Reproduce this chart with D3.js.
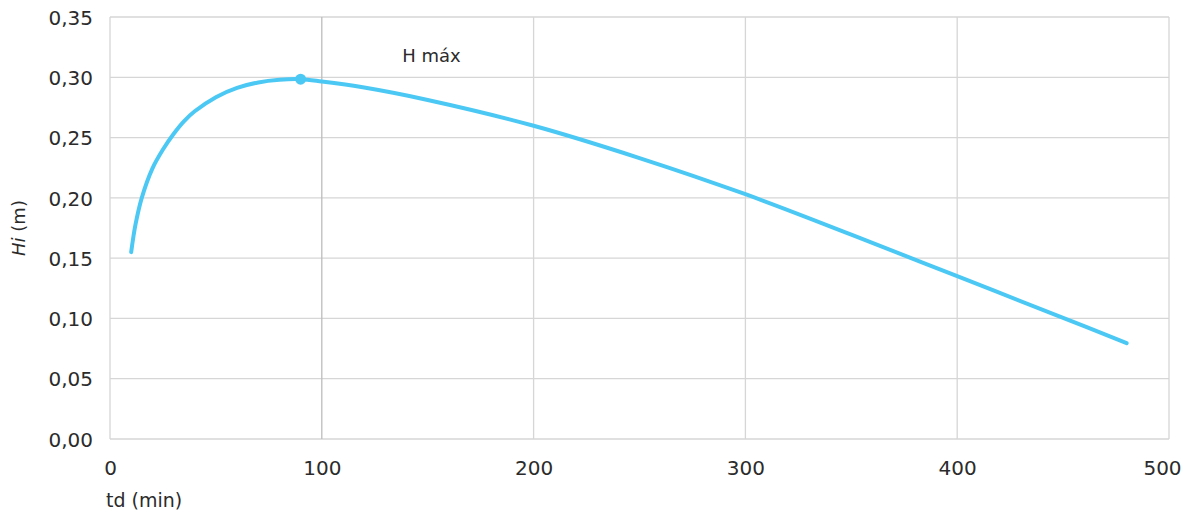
<!DOCTYPE html>
<html><head><meta charset="utf-8">
<script src="https://cdn.jsdelivr.net/npm/d3@7"></script>
<style>
html,body{margin:0;padding:0;background:#fff;}
svg text{font-family:"DejaVu Sans",sans-serif;fill:#2b2b2b;}
</style></head>
<body><svg id="c" width="1192" height="513"></svg>
<script>
const tdMin = [10, 12, 15, 20, 25, 30, 35, 40, 50, 60, 70, 80, 90, 100, 120, 150, 200, 250, 300, 350, 400, 450, 480];
const hiM   = [0.155, 0.1775, 0.2000, 0.2243, 0.2401, 0.2530, 0.2637, 0.2718, 0.2835, 0.2912, 0.2957, 0.2979, 0.2984, 0.2965, 0.2915, 0.2812, 0.2598, 0.2330, 0.2030, 0.1695, 0.1350, 0.1005, 0.0795];
const peak = {t: 90, h: 0.2984, label: "H máx", labelT: 138, labelH: 0.313};
const xTicks = [0, 100, 200, 300, 400, 500];
const yTicks = [0, 0.05, 0.10, 0.15, 0.20, 0.25, 0.30, 0.35];
const xTitle = "td (min)";

const svg = d3.select("#c");
const L = 110, R = 1169, T = 17, B = 439;
const x = d3.scaleLinear().domain([0, 500]).range([L, R]);
const y = d3.scaleLinear().domain([0, 0.35]).range([B, T]);

// grid
svg.append("g").selectAll("line").data(yTicks).join("line")
  .attr("x1", L).attr("x2", R).attr("y1", d => y(d)).attr("y2", d => y(d))
  .attr("stroke", "#d6d6d6").attr("stroke-width", 1.3);
svg.append("g").selectAll("line").data(xTicks).join("line")
  .attr("x1", d => x(d)).attr("x2", d => x(d)).attr("y1", T).attr("y2", B)
  .attr("stroke", d => d === 100 ? "#bdbdbd" : "#d6d6d6").attr("stroke-width", 1.3);

// axes labels via d3 axes
const fmt = d3.format(".2f");
const yAxis = svg.append("g").attr("transform", `translate(${L},0)`)
  .call(d3.axisLeft(y).tickValues(yTicks).tickSize(0).tickPadding(17)
    .tickFormat(d => fmt(d).replace(".", ",")));
yAxis.select(".domain").remove();
yAxis.selectAll("text").attr("font-size", 20).attr("dy", "0.36em");

const xAxis = svg.append("g").attr("transform", `translate(0,${B})`)
  .call(d3.axisBottom(x).tickValues(xTicks).tickSize(0).tickPadding(22));
xAxis.select(".domain").remove();
xAxis.selectAll("text").attr("font-size", 20).attr("dy", "0.71em")
  .attr("dx", d => d === 500 ? -7 : 0);

// titles
svg.append("text").attr("x", L - 4).attr("y", 507).attr("font-size", 19).text(xTitle);
const yt = svg.append("text").attr("transform", `translate(25,${(T + B) / 2}) rotate(-90)`)
  .attr("text-anchor", "middle").attr("font-size", 18);
yt.append("tspan").attr("font-style", "italic").text("Hi");
yt.append("tspan").text(" (m)");

// line
const pts = tdMin.map((t, i) => [t, hiM[i]]);
svg.append("path").datum(pts)
  .attr("d", d3.line().x(d => x(d[0])).y(d => y(d[1])).curve(d3.curveCatmullRom.alpha(0.5)))
  .attr("fill", "none").attr("stroke", "#4cc8f4").attr("stroke-width", 4).attr("stroke-linecap", "round");

svg.append("circle").attr("cx", x(peak.t)).attr("cy", y(peak.h)).attr("r", 5.5).attr("fill", "#4cc8f4");
svg.append("text").attr("x", x(peak.labelT)).attr("y", y(peak.labelH)).attr("font-size", 18).text(peak.label);
</script></body></html>
